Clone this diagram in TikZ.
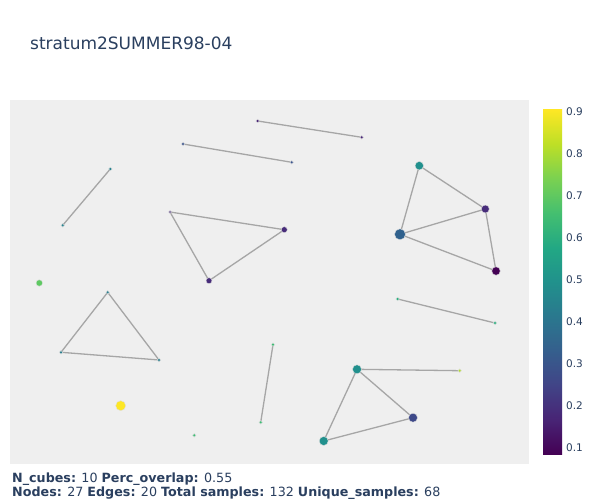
\documentclass[tikz,border=0pt]{standalone}
\usepackage{fontspec}
\setmainfont{DejaVu Sans}
\pgfdeclarelayer{bg}
\pgfdeclarelayer{edgelayer}
\pgfsetlayers{bg,edgelayer,main}
\definecolor{txt}{HTML}{2A3F5F}
\definecolor{plotbg}{HTML}{EFEFEF}
\definecolor{edgec}{HTML}{A6A6A6}
\definecolor{v00}{HTML}{440154}
\definecolor{v01}{HTML}{482475}
\definecolor{v02}{HTML}{414487}
\definecolor{v03}{HTML}{355F8D}
\definecolor{v04}{HTML}{2A788E}
\definecolor{v05}{HTML}{21918C}
\definecolor{v06}{HTML}{22A884}
\definecolor{v07}{HTML}{44BF70}
\definecolor{v08}{HTML}{7AD151}
\definecolor{v09}{HTML}{BDDF26}
\definecolor{v10}{HTML}{FDE725}
\definecolor{cA}{HTML}{440154}
\definecolor{cB}{HTML}{472C7A}
\definecolor{cC}{HTML}{30618D}
\definecolor{cD}{HTML}{21908D}
\definecolor{cE}{HTML}{3E4989}
\definecolor{cF}{HTML}{B2DD2D}
\definecolor{cG}{HTML}{FDE725}
\definecolor{cH}{HTML}{5EC962}
\definecolor{cP1}{HTML}{482576}
\definecolor{cP2}{HTML}{3A548C}
\definecolor{cP3}{HTML}{26828E}
\definecolor{cT5}{HTML}{2A7F8E}
\definecolor{cP8}{HTML}{2AB07F}
\definecolor{cP9}{HTML}{3DBC74}
\pgfdeclareverticalshading{viridis}{100bp}{color(0bp)=(v00); color(25bp)=(v00); color(30bp)=(v01); color(35bp)=(v02); color(40bp)=(v03); color(45bp)=(v04); color(50bp)=(v05); color(55bp)=(v06); color(60bp)=(v07); color(65bp)=(v08); color(70bp)=(v09); color(75bp)=(v10); color(100bp)=(v10)}
\tikzset{
  pt/.style args={#1/#2}{circle, inner sep=0pt, minimum size=#2pt, fill=#1, draw=white!75!gray, line width=0.4pt},
  edge/.style={draw=edgec, line width=1.3pt},
  tick/.style={anchor=base west, text=txt, font=\fontsize{10.5}{12}\selectfont, inner sep=0pt},
  info/.style={anchor=base west, text=txt, font=\fontsize{12.7}{15}\selectfont, inner sep=0pt}
}
\begin{document}
\begin{tikzpicture}[x=1pt,y=-1pt]
\useasboundingbox (0,0) rectangle (600,500);
\begin{pgfonlayer}{bg}
\fill[white] (0,0) rectangle (600,500);
\fill[plotbg] (10,100) rectangle (529,464);
\end{pgfonlayer}
% title
\node[anchor=base west, text=txt, font=\fontsize{17}{20}\selectfont, inner sep=0pt] (title) at (30,49.5) {stratum2SUMMER98-04};
% nodes
\node[pt=cP1/3.5] (a1) at (257.7,121) {};
\node[pt=cP1/3.5] (a2) at (361.7,137.3) {};
\node[pt=cP2/3.5] (b1) at (183,144) {};
\node[pt=cP2/3.5] (b2) at (291.7,162.3) {};
\node[pt=cP3/3.5] (c1) at (110.3,169) {};
\node[pt=cP3/3.5] (c2) at (62.7,225.3) {};
\node[pt=cH/6.5] (d1) at (39.3,283) {};
\node[pt=cT5/3.5] (e1) at (107.7,292.3) {};
\node[pt=cT5/3.5] (e2) at (61,352.3) {};
\node[pt=cT5/3.5] (e3) at (159,360) {};
\node[pt=cB/3] (f1) at (170,212) {};
\node[pt=cB/6] (f2) at (284.3,229.7) {};
\node[pt=cB/6] (f3) at (209,280.7) {};
\node[pt=cD/8.5] (g1) at (419.3,165.7) {};
\node[pt=cB/8] (g2) at (485.3,209) {};
\node[pt=cC/11] (g3) at (400,234.3) {};
\node[pt=cA/8.5] (g4) at (496,271) {};
\node[pt=cP8/3.5] (h1) at (397.7,299) {};
\node[pt=cP8/3.5] (h2) at (495,323) {};
\node[pt=cP9/3.5] (i1) at (273,344.7) {};
\node[pt=cP9/3.5] (i2) at (260.7,422.3) {};
\node[pt=cG/10] (j1) at (120.7,405.7) {};
\node[pt=cP9/3.5] (k1) at (194.3,435.3) {};
\node[pt=cD/9] (l1) at (357,369.3) {};
\node[pt=cF/3.5] (l2) at (459.7,370.7) {};
\node[pt=cE/9] (l3) at (413,417.7) {};
\node[pt=cD/9] (l4) at (323.7,441) {};
% edges
\begin{pgfonlayer}{edgelayer}
\draw[edge] (a1.center) -- (a2.center);
\draw[edge] (b1.center) -- (b2.center);
\draw[edge] (c1.center) -- (c2.center);
\draw[edge] (e1.center) -- (e2.center);
\draw[edge] (e2.center) -- (e3.center);
\draw[edge] (e3.center) -- (e1.center);
\draw[edge] (f1.center) -- (f2.center);
\draw[edge] (f2.center) -- (f3.center);
\draw[edge] (f3.center) -- (f1.center);
\draw[edge] (g1.center) -- (g3.center);
\draw[edge] (g1.center) -- (g2.center);
\draw[edge] (g3.center) -- (g2.center);
\draw[edge] (g3.center) -- (g4.center);
\draw[edge] (g2.center) -- (g4.center);
\draw[edge] (h1.center) -- (h2.center);
\draw[edge] (i1.center) -- (i2.center);
\draw[edge] (l1.center) -- (l2.center);
\draw[edge] (l1.center) -- (l3.center);
\draw[edge] (l1.center) -- (l4.center);
\draw[edge] (l4.center) -- (l3.center);
\end{pgfonlayer}
% colorbar
\shade[shading=viridis] (543,110) rectangle (562,454);
\foreach \v [count=\i from 0] in {0.9,0.8,0.7,0.6,0.5,0.4,0.3,0.2,0.1}
  \node[tick] (t\i) at (566,{115.5+42*\i}) {\v};
% info text
\node[info] (info1) at (12,482.7) {\textbf{N\_cubes:} 10 \textbf{Perc\_overlap:} 0.55};
\node[info] (info2) at (12,496.5) {\textbf{Nodes:} 27 \textbf{Edges:} 20 \textbf{Total samples:} 132 \textbf{Unique\_samples:} 68};
\end{tikzpicture}
\end{document}
